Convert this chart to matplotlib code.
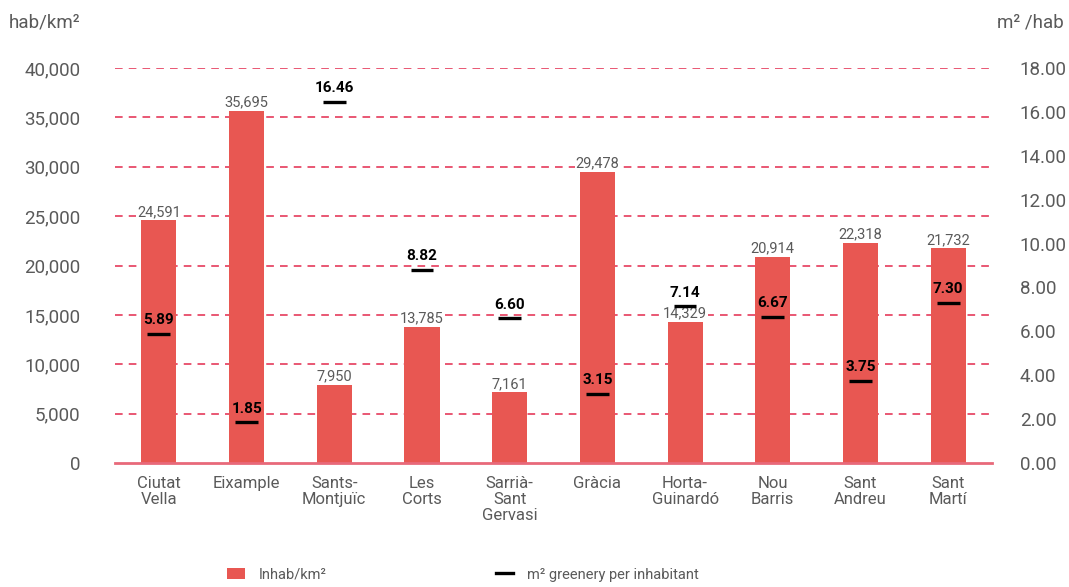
import matplotlib
matplotlib.use("Agg")
import matplotlib.pyplot as plt
from matplotlib.lines import Line2D
from matplotlib.patches import Patch

plt.rcParams['font.family'] = ['Roboto', 'DejaVu Sans']

# datos
districtes = ['Ciutat\nVella', 'Eixample', 'Sants-\nMontjuïc', 'Les\nCorts', 'Sarrià-\nSant\nGervasi',
              'Gràcia', 'Horta-\nGuinardó', 'Nou\nBarris', 'Sant\nAndreu', 'Sant\nMartí']
densitat = [24591, 35695, 7950, 13785, 7161, 29478, 14329, 20914, 22318, 21732]
verd = [5.89, 1.85, 16.46, 8.82, 6.60, 3.15, 7.14, 6.67, 3.75, 7.30]
ticks_esq = [0, 5000, 10000, 15000, 20000, 25000, 30000, 35000, 40000]
ticks_dre = [0, 2, 4, 6, 8, 10, 12, 14, 16, 18]

vermell = '#E85752'
gris = '#5a5a5a'
graella = '#E3294D'

fig = plt.figure(figsize=(10.69, 5.87), dpi=100)
ax = fig.add_axes([0.1076, 0.2112, 0.8204, 0.6728])
ax2 = ax.twinx()

x = range(len(districtes))
ax.bar(x, densitat, width=0.40, color=vermell, zorder=2)
for xi, v in zip(x, densitat):
    ax.text(xi, v + 120, f'{v:,}', ha='center', va='bottom', fontsize=10.5, color=gris, zorder=3,
            bbox=dict(facecolor='white', edgecolor='none', pad=0.5))

ax.set_ylim(0, 40000)
ax.set_xlim(-0.5, len(districtes) - 0.5)
ax.set_yticks(ticks_esq)
ax.set_yticklabels([f'{t:,}' for t in ticks_esq])
ax.set_xticks(list(x))
ax.set_xticklabels(districtes, fontsize=12, color=gris, linespacing=1.1)
ax.tick_params(axis='y', length=0, pad=25, labelsize=13.5, labelcolor=gris)
ax.tick_params(axis='x', length=0, pad=9)
for t in ticks_esq[1:]:
    ax.axhline(t, color=graella, lw=1.1, ls=(0, (5, 4)), zorder=1)
for s in ['top', 'right', 'left']:
    ax.spines[s].set_visible(False)
ax.spines['bottom'].set_color('#E8697A')
ax.spines['bottom'].set_linewidth(2)
ax.spines['bottom'].set_zorder(3)

ax2.set_ylim(0, 18)
ax2.set_yticks(ticks_dre)
ax2.set_yticklabels([f'{t:.2f}' for t in ticks_dre])
ax2.tick_params(axis='y', length=0, pad=20, labelsize=13.5, labelcolor=gris)
for s in ax2.spines.values():
    s.set_visible(False)
for xi, v in zip(x, verd):
    ax2.plot([xi - 0.13, xi + 0.13], [v, v], color='black', lw=2.4, solid_capstyle='butt', zorder=4)
    ax2.text(xi, v + 0.3, f'{v:.2f}', ha='center', va='bottom', fontsize=11, fontweight='bold',
             color='black', zorder=4)

fig.text(0.008, 0.962, 'hab/km²', fontsize=13.5, color=gris, ha='left', va='center')
fig.text(0.995, 0.962, 'm² /hab', fontsize=13.5, color=gris, ha='right', va='center')

handles = [Patch(facecolor=vermell, edgecolor='none'),
           Line2D([0], [0], color='black', lw=2.4)]
leg = fig.legend(handles, ['Inhab/km²', 'm² greenery per inhabitant'], loc='center left',
                 bbox_to_anchor=(0.2125, 0.021), ncol=2, frameon=False, fontsize=10.5,
                 handlelength=1.2, handleheight=0.85, columnspacing=11.6, handletextpad=0.95,
                 borderpad=0, borderaxespad=0)
for t in leg.get_texts():
    t.set_color(gris)

fig.savefig('out.png', dpi=100)
